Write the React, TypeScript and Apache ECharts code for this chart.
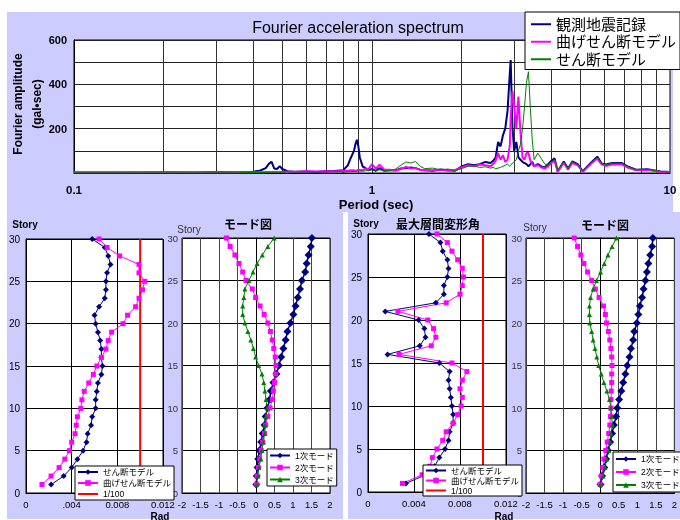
import React, { useEffect, useRef } from 'react';
import * as echarts from 'echarts';

// ---------- Fourier spectrum data ----------
const periods = [
  0.1, 0.15, 0.2, 0.25, 0.3, 0.35, 0.4,
  0.42, 0.44, 0.45, 0.46, 0.47, 0.48, 0.49, 0.5,
  0.52, 0.55, 0.6, 0.65, 0.7, 0.75, 0.8,
  0.83, 0.85, 0.87, 0.88, 0.89, 0.9, 0.91, 0.93, 0.95, 0.97,
  1.0, 1.03, 1.06, 1.1, 1.15, 1.2, 1.25, 1.3, 1.35, 1.4, 1.45, 1.5,
  1.6, 1.7, 1.8, 1.9, 2.0, 2.1, 2.2, 2.3, 2.4, 2.5,
  2.55, 2.6, 2.65, 2.7, 2.75, 2.8, 2.85, 2.9, 2.92, 2.96,
  3.0, 3.05, 3.1, 3.15, 3.2, 3.25, 3.3, 3.35, 3.4, 3.45, 3.5,
  3.6, 3.7, 3.8, 3.9, 4.0, 4.1, 4.2,
  4.4, 4.55, 4.7, 4.9, 5.1, 5.4, 5.7, 5.9, 6.1, 6.4, 6.9, 7.2, 7.7, 8.4, 9.3, 10,
];
const observedAmp = [
  2, 2, 3, 2, 4, 3, 6,
  10, 22, 40, 51, 20, 18, 31, 18,
  8, 6, 7, 5, 8, 9, 12,
  35, 70, 100, 130, 150, 120, 70, 30, 22, 12,
  18, 10, 22, 10, 12, 12, 20, 22, 25, 22, 15, 12,
  10, 16, 12, 10, 30, 40, 35, 40, 50, 45,
  55, 70, 140, 120, 170, 200, 280, 450, 510, 210,
  100, 140, 70, 60, 50, 45, 40, 30, 40, 50, 30,
  40, 30, 25, 40, 55, 66, 8,
  52, 20, 52, 40, 8, 43, 74, 43, 38, 45, 45, 30, 15, 17, 7, 4,
];
const bendShearAmp = [
  3, 3, 3, 3, 3, 3, 3,
  3, 4, 4, 4, 4, 4, 5, 5,
  6, 5, 8, 7, 8, 7, 9,
  10, 12, 12, 10, 12, 15, 14, 12, 20, 14,
  40, 20, 38, 15, 15, 10, 18, 28, 20, 22, 14, 14,
  12, 15, 10, 14, 25, 35, 30, 38, 35, 30,
  40, 55, 90, 60, 80, 50, 60, 125, 250, 370,
  300, 200, 345, 180, 70, 60, 90, 90, 55, 40, 30,
  35, 25, 20, 30, 45, 55, 5,
  45, 15, 45, 35, 5, 38, 65, 38, 32, 38, 38, 25, 12, 14, 6, 4,
];
const shearAmp = [
  1, 1, 1, 1, 1, 1, 2,
  2, 2, 3, 3, 3, 3, 3, 4,
  4, 4, 5, 5, 6, 5, 5,
  6, 6, 7, 7, 8, 8, 9, 8, 10, 12,
  15, 12, 14, 12, 10, 18, 35, 50, 45, 52, 30, 20,
  22, 14, 18, 10, 20, 30, 32, 25, 28, 22,
  25, 20, 22, 25, 30, 35, 40, 30, 35, 45,
  50, 60, 100, 130, 200, 300, 410, 457, 290, 150, 60,
  90, 65, 40, 35, 50, 60, 10,
  50, 18, 50, 38, 7, 42, 70, 42, 36, 44, 44, 28, 14, 16, 7, 4,
];
const periodGrid = [0.2, 0.3, 0.4, 0.5, 0.6, 0.7, 0.8, 0.9, 1, 2, 3, 4, 5, 6, 7, 8, 9];

// ---------- story data ----------
const stories = [1, 2, 3, 4, 5, 6, 7, 8, 9, 10, 11, 12, 13, 14, 15, 16, 17, 18, 19, 20, 21, 22, 23, 24, 25, 26, 27, 28, 29, 30];
const limitDrift = 0.01;

const driftShearL = [0.0022, 0.0033, 0.0040, 0.0045, 0.0050, 0.0053, 0.0054, 0.0057, 0.0058, 0.0061, 0.0061, 0.0062, 0.0063, 0.0066, 0.0067, 0.0066, 0.0066, 0.0065, 0.0063, 0.0061, 0.0060, 0.0064, 0.0069, 0.0070, 0.0070, 0.0071, 0.0074, 0.0072, 0.0069, 0.0058];
const driftBendL = [0.0014, 0.0022, 0.0029, 0.0034, 0.0038, 0.0040, 0.0043, 0.0044, 0.0045, 0.0048, 0.0049, 0.0051, 0.0055, 0.0059, 0.0062, 0.0066, 0.0070, 0.0072, 0.0075, 0.0085, 0.0089, 0.0096, 0.0099, 0.0102, 0.0104, 0.0099, 0.0099, 0.0082, 0.0071, 0.0064];

const mode1L = [0.01, 0.02, 0.04, 0.06, 0.09, 0.14, 0.18, 0.23, 0.26, 0.31, 0.37, 0.40, 0.47, 0.55, 0.62, 0.68, 0.74, 0.80, 0.85, 0.93, 1.01, 1.07, 1.13, 1.19, 1.24, 1.33, 1.37, 1.42, 1.48, 1.51];
const mode2L = [0.01, 0.03, 0.06, 0.10, 0.14, 0.18, 0.23, 0.26, 0.32, 0.38, 0.44, 0.47, 0.50, 0.53, 0.54, 0.52, 0.48, 0.44, 0.39, 0.32, 0.22, 0.11, -0.01, -0.10, -0.27, -0.36, -0.46, -0.57, -0.70, -0.80];
const mode3L = [0.01, 0.05, 0.08, 0.13, 0.16, 0.20, 0.23, 0.24, 0.27, 0.30, 0.27, 0.24, 0.21, 0.16, 0.07, -0.01, -0.07, -0.14, -0.22, -0.30, -0.36, -0.36, -0.33, -0.30, -0.19, -0.08, 0.03, 0.17, 0.32, 0.49];

const driftShearR = [0.0033, 0.0050, 0.0058, 0.0062, 0.0067, 0.0070, 0.0071, 0.0074, 0.0074, 0.0073, 0.0072, 0.0071, 0.0070, 0.0071, 0.0062, 0.0017, 0.0045, 0.0050, 0.0049, 0.0044, 0.0015, 0.0059, 0.0066, 0.0066, 0.0069, 0.0070, 0.0069, 0.0065, 0.0063, 0.0053];
const driftBendR = [0.0030, 0.0047, 0.0054, 0.0056, 0.0060, 0.0065, 0.0068, 0.0074, 0.0078, 0.0081, 0.0082, 0.0080, 0.0082, 0.0086, 0.0073, 0.0027, 0.0055, 0.0059, 0.0057, 0.0052, 0.0026, 0.0068, 0.0080, 0.0082, 0.0083, 0.0082, 0.0078, 0.0073, 0.0069, 0.0060];

const mode1R = [0.01, 0.05, 0.11, 0.16, 0.21, 0.27, 0.32, 0.37, 0.43, 0.46, 0.51, 0.57, 0.62, 0.68, 0.73, 0.79, 0.83, 0.89, 0.92, 0.99, 1.03, 1.07, 1.13, 1.17, 1.22, 1.26, 1.30, 1.35, 1.40, 1.42];
const mode2R = [0.00, 0.03, 0.07, 0.10, 0.15, 0.19, 0.23, 0.26, 0.28, 0.29, 0.29, 0.30, 0.31, 0.31, 0.32, 0.31, 0.29, 0.26, 0.22, 0.17, 0.14, 0.09, -0.03, -0.13, -0.23, -0.34, -0.44, -0.52, -0.61, -0.70];
const mode3R = [0.01, 0.08, 0.13, 0.18, 0.23, 0.27, 0.29, 0.33, 0.31, 0.29, 0.25, 0.18, 0.10, 0.03, -0.04, -0.09, -0.14, -0.19, -0.23, -0.28, -0.29, -0.29, -0.26, -0.19, -0.10, 0.01, 0.11, 0.21, 0.32, 0.44];

const legendLabels: Record<string, string> = {
  obs: '観測地震記録', bendTop: '曲げせん断モデル', shearTop: 'せん断モデル',
  shearL: 'せん断モデル', bendL: '曲げせん断モデル', limitL: '1/100',
  m1L: '1次モード', m2L: '2次モード', m3L: '3次モード',
  shearR: 'せん断モデル', bendR: '曲げせん断モデル', limitR: '1/100',
  m1R: '1次モード', m2R: '2次モード', m3R: '3次モード',
};

const FONT = "'Liberation Sans', Arial, 'Noto Sans CJK JP', sans-serif";
const NAVY = '#000080';
const MAG = '#FF00FF';
const GREEN = '#008000';
const RED = '#FF0000';
const LAV = '#CCCCFF';

function buildOption() {
  const spec = (arr: number[]) => periods.map((p, i) => [p, arr[i]]);
  const byStory = (arr: number[]) => stories.map((s, i) => [arr[i], s]);
  const limitLine = [[limitDrift, 0], [limitDrift, 30]];

  const gridBase = { show: true, backgroundColor: '#fff', borderColor: '#000', borderWidth: 1 };
  const grids = [
    { left: 74, top: 40, width: 596, height: 133 },
    { left: 26, top: 239, width: 137, height: 254 },
    { left: 182, top: 238, width: 148, height: 255 },
    { left: 368, top: 234, width: 138, height: 258 },
    { left: 526, top: 238, width: 149, height: 255 },
  ].map((g) => ({ ...gridBase, ...g }));

  const fmtRadL = (v: number) => (v === 0 ? '0' : Math.abs(v - 0.004) < 1e-9 ? '.004' : v.toFixed(3));
  const fmtRadR = (v: number) => (v === 0 ? '0' : v.toFixed(3));

  const driftX = (gi: number, fmt: (v: number) => string) => ({
    gridIndex: gi, type: 'value', min: 0, max: 0.012, interval: 0.004,
    axisLine: { show: true, lineStyle: { color: '#000' } }, axisTick: { show: false },
    splitLine: { show: true, lineStyle: { color: '#000', width: 1 } },
    axisLabel: { formatter: fmt, fontSize: 9.5, color: '#000', margin: 7, fontFamily: FONT },
  });
  const modeX = (gi: number) => ({
    gridIndex: gi, type: 'value', min: -2, max: 2, interval: 0.5,
    axisLine: { show: true, lineStyle: { color: '#000' } }, axisTick: { show: false },
    splitLine: { show: true, lineStyle: { color: '#444', width: 1 } },
    axisLabel: { fontSize: 9.5, color: '#000', margin: 7, fontFamily: FONT },
  });
  const storyY = (gi: number, onZero: boolean) => ({
    gridIndex: gi, type: 'value', min: 0, max: 30, interval: 5,
    axisLine: { show: true, onZero, lineStyle: { color: '#000' } }, axisTick: { show: false },
    splitLine: { show: true, lineStyle: { color: '#000', width: 1 } },
    axisLabel: onZero
      ? { fontSize: 9.5, color: '#333', margin: 4, fontFamily: FONT }
      : { fontSize: 10, color: '#000', margin: 6, fontFamily: FONT },
  });

  const hideSym = { opacity: 0 };
  const smallLegend = (names: string[], left: number, top: number, lh: number, noSymbol: string | null) => ({
    data: names.map((n) => (n === noSymbol ? { name: n, itemStyle: hideSym } : { name: n })),
    orient: 'vertical', left, top,
    backgroundColor: '#fff', borderColor: '#000', borderWidth: 1, borderRadius: 0,
    padding: [1, 3, 1, 2], itemGap: 1, itemWidth: 20, itemHeight: 7,
    textStyle: { fontSize: 8.5, lineHeight: lh, color: '#000', fontFamily: FONT },
    formatter: (n: string) => legendLabels[n], selectedMode: false,
  });

  const storyLine = (name: string, xi: number, data: any, color: string, symbol: string, size: number, width: number) => ({
    name, type: 'line', xAxisIndex: xi, yAxisIndex: xi, data, color,
    symbol, symbolSize: size, showSymbol: true,
    lineStyle: { color, width }, itemStyle: { color },
  });

  const text = (t: string, x: number, y: number, size: number, bold: boolean, color = '#000', rotation = 0) => ({
    type: 'text', x, y, rotation, z: 20,
    style: { text: t, fontSize: size, fontWeight: bold ? 'bold' : 'normal', fill: color, fontFamily: FONT, textAlign: 'center', textVerticalAlign: 'middle' },
  });

  return {
    animation: false,
    textStyle: { fontFamily: FONT },
    grid: grids,
    xAxis: [
      {
        gridIndex: 0, type: 'log', logBase: 10, min: 0.1, max: 10,
        axisLine: { show: true, lineStyle: { color: '#000' } }, axisTick: { show: false },
        splitLine: { show: false },
        axisLabel: { fontWeight: 'bold', fontSize: 11.5, color: '#000', margin: 11, fontFamily: FONT,
          formatter: (v: number) => String(Number(v.toPrecision(3))) },
      },
      driftX(1, fmtRadL),
      modeX(2),
      driftX(3, fmtRadR),
      modeX(4),
    ],
    yAxis: [
      {
        gridIndex: 0, type: 'value', min: 0, max: 600, interval: 100,
        axisLine: { show: true, onZero: false, lineStyle: { color: '#000' } }, axisTick: { show: false },
        splitLine: { show: true, lineStyle: { color: '#222', width: 1 } },
        axisLabel: { fontWeight: 'bold', fontSize: 11, color: '#000', margin: 7, fontFamily: FONT,
          formatter: (v: number) => (v > 0 && Math.round(v) % 200 === 0 ? String(v) : '') },
      },
      storyY(1, false),
      storyY(2, true),
      storyY(3, false),
      storyY(4, true),
    ],
    legend: [
      {
        data: ['obs', 'bendTop', 'shearTop'].map((n) => ({ name: n, itemStyle: hideSym })),
        orient: 'vertical', left: 525, top: 12,
        backgroundColor: '#fff', borderColor: '#000', borderWidth: 1, borderRadius: 0,
        padding: [4, 4, 2, 5], itemGap: 1, itemWidth: 20, itemHeight: 12,
        textStyle: { fontSize: 15, lineHeight: 16.5, color: '#000', fontFamily: FONT },
        formatter: (n: string) => legendLabels[n], selectedMode: false,
      },
      smallLegend(['shearL', 'bendL', 'limitL'], 75, 466, 10, 'limitL'),
      smallLegend(['m1L', 'm2L', 'm3L'], 267, 449, 11, null),
      smallLegend(['shearR', 'bendR', 'limitR'], 423, 465, 9, 'limitR'),
      smallLegend(['m1R', 'm2R', 'm3R'], 613, 452, 12, null),
    ],
    graphic: {
      elements: [
        { type: 'rect', z: -100, shape: { x: 7, y: 12, width: 666, height: 200 }, style: { fill: LAV } },
        { type: 'rect', z: -100, shape: { x: 7, y: 212, width: 336, height: 307 }, style: { fill: LAV } },
        { type: 'rect', z: -100, shape: { x: 348, y: 212, width: 332, height: 307 }, style: { fill: LAV } },
        text('Fourier acceleration spectrum', 358, 27, 16, false),
        text('Fourier amplitude', 18, 104, 12, true, '#000', Math.PI / 2),
        text('(gal•sec)', 37, 104, 12, true, '#000', Math.PI / 2),
        text('Period (sec)', 376, 204, 13, true),
        text('Story', 25, 224, 10, true),
        text('Rad', 160, 516, 10, true),
        text('Story', 189, 229, 10, false, '#333'),
        text('モード図', 248, 225, 12, true),
        text('Story', 366, 223.5, 10, true),
        text('最大層間変形角', 438, 225, 12, true),
        text('Rad', 504, 516, 10, true),
        text('Story', 535, 227, 10, false, '#333'),
        text('モード図', 605, 226, 12, true),
      ],
    },
    series: [
      {
        name: 'obs', type: 'line', xAxisIndex: 0, yAxisIndex: 0, data: spec(observedAmp),
        symbol: 'none', color: NAVY, lineStyle: { color: NAVY, width: 2 },
        markLine: {
          silent: true, symbol: 'none', z: 1, label: { show: false },
          lineStyle: { color: '#333', width: 1, type: 'solid' },
          data: periodGrid.map((p) => ({ xAxis: p })),
        },
      },
      { name: 'bendTop', type: 'line', xAxisIndex: 0, yAxisIndex: 0, data: spec(bendShearAmp), symbol: 'none', color: MAG, lineStyle: { color: MAG, width: 2 } },
      { name: 'shearTop', type: 'line', xAxisIndex: 0, yAxisIndex: 0, data: spec(shearAmp), symbol: 'none', color: GREEN, lineStyle: { color: GREEN, width: 1 } },

      storyLine('shearL', 1, byStory(driftShearL), NAVY, 'diamond', 6, 1),
      storyLine('bendL', 1, byStory(driftBendL), MAG, 'rect', 5, 1),
      { name: 'limitL', type: 'line', xAxisIndex: 1, yAxisIndex: 1, data: limitLine, symbol: 'none', color: RED, lineStyle: { color: RED, width: 2 } },

      storyLine('m1L', 2, byStory(mode1L), NAVY, 'diamond', 8, 1.5),
      storyLine('m2L', 2, byStory(mode2L), MAG, 'rect', 5, 1),
      storyLine('m3L', 2, byStory(mode3L), GREEN, 'triangle', 5, 1),

      storyLine('shearR', 3, byStory(driftShearR), NAVY, 'diamond', 6, 1),
      storyLine('bendR', 3, byStory(driftBendR), MAG, 'rect', 5, 1),
      { name: 'limitR', type: 'line', xAxisIndex: 3, yAxisIndex: 3, data: limitLine, symbol: 'none', color: RED, lineStyle: { color: RED, width: 2 } },

      storyLine('m1R', 4, byStory(mode1R), NAVY, 'diamond', 8, 1.5),
      storyLine('m2R', 4, byStory(mode2R), MAG, 'rect', 5, 1),
      storyLine('m3R', 4, byStory(mode3R), GREEN, 'triangle', 5, 1),
    ],
  };
}

export default function App() {
  const ref = useRef<HTMLDivElement>(null);
  useEffect(() => {
    if (!ref.current) return;
    const chart = echarts.init(ref.current, null, { renderer: 'svg' });
    chart.setOption(buildOption() as any);
    return () => chart.dispose();
  }, []);
  return <div ref={ref} style={{ position: 'fixed', left: 0, top: 0, width: 680, height: 520 }} />;
}
